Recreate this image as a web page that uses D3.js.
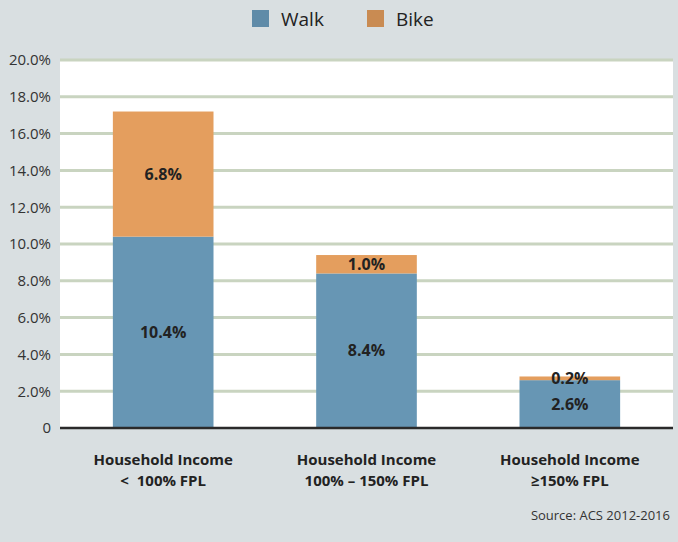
<!DOCTYPE html>
<html>
<head>
<meta charset="utf-8">
<script src="https://cdn.jsdelivr.net/npm/d3@7"></script>
<style>
  body { margin: 0; background: #d9dfe1; }
  svg { display: block; font-family: "Open Sans", Lato, sans-serif; }
</style>
</head>
<body>
<div id="chart"></div>
<script>
const categories = ['lt100', '100to150', 'ge150'];
const categoryLines = [
    ['Household Income', '<\u00a0\u00a0100% FPL'],
    ['Household Income', '100% \u2013 150% FPL'],
    ['Household Income', '\u2265150% FPL']
];
const walkValues = [10.4, 8.4, 2.6];
const bikeValues = [6.8, 1.0, 0.2];
const yTicks = [0, 2, 4, 6, 8, 10, 12, 14, 16, 18, 20];
const seriesNames = ['Walk', 'Bike'];
const sourceText = 'Source: ACS 2012-2016';

const W = 678, H = 542;
const plot = {left: 60, right: 673, top: 60, bottom: 428};

const colors = {Walk: '#6796b4', Bike: '#e49e5e'};
const legendColors = {Walk: '#5f8ba8', Bike: '#c98b52'};

const svg = d3.select('#chart')
    .append('svg')
    .attr('width', W)
    .attr('height', H);

// plot background
svg.append('rect')
    .attr('x', plot.left)
    .attr('y', plot.top)
    .attr('width', plot.right - plot.left)
    .attr('height', plot.bottom - plot.top)
    .attr('fill', '#fff');

const x = d3.scaleBand()
    .domain(categories)
    .range([plot.left, plot.right])
    .paddingInner(0.505)
    .paddingOuter(0.26);

const y = d3.scaleLinear()
    .domain([0, 20])
    .range([plot.bottom, plot.top]);

// gridlines
svg.append('g')
    .selectAll('line')
    .data(yTicks.filter(d => d > 0))
    .join('line')
    .attr('x1', plot.left)
    .attr('x2', plot.right)
    .attr('y1', d => y(d))
    .attr('y2', d => y(d))
    .attr('stroke', '#c9d4c0')
    .attr('stroke-width', 3);

// y axis labels
const yAxis = d3.axisLeft(y)
    .tickValues(yTicks)
    .tickSize(0)
    .tickPadding(9)
    .tickFormat(d => d === 0 ? '0' : d.toFixed(1) + '%');

svg.append('g')
    .attr('transform', `translate(${plot.left},0)`)
    .call(yAxis)
    .call(g => g.select('.domain').remove())
    .call(g => g.selectAll('text')
        .attr('fill', '#333')
        .style('font-size', '15px')
        .style('font-family', '"Open Sans", Lato, sans-serif'));

// stacked bars
const rows = categories.map((c, i) => ({cat: c, Walk: walkValues[i], Bike: bikeValues[i]}));
const stack = d3.stack().keys(seriesNames)(rows);

const layers = svg.append('g')
    .selectAll('g')
    .data(stack)
    .join('g')
    .attr('fill', d => colors[d.key]);

layers.selectAll('rect')
    .data(d => d)
    .join('rect')
    .attr('x', d => x(d.data.cat))
    .attr('width', x.bandwidth())
    .attr('y', d => y(d[1]))
    .attr('height', d => y(d[0]) - y(d[1]));

// value labels
layers.selectAll('text')
    .data(d => d.map(v => ({v, key: d.key})))
    .join('text')
    .attr('x', d => x(d.v.data.cat) + x.bandwidth() / 2)
    .attr('y', d => (y(d.v[0]) + y(d.v[1])) / 2)
    .attr('dy', '0.35em')
    .attr('text-anchor', 'middle')
    .attr('fill', '#222')
    .style('font-size', '16px')
    .style('font-weight', 'bold')
    .text(d => d.v.data[d.key].toFixed(1) + '%');

// x axis line
svg.append('line')
    .attr('x1', plot.left)
    .attr('x2', plot.right)
    .attr('y1', plot.bottom)
    .attr('y2', plot.bottom)
    .attr('stroke', '#2a2a2a')
    .attr('stroke-width', 2.5);

// category labels
const catLabels = svg.append('g')
    .selectAll('text')
    .data(categories)
    .join('text')
    .attr('text-anchor', 'middle')
    .attr('fill', '#222')
    .style('font-size', '15px')
    .style('font-weight', 'bold');

catLabels.selectAll('tspan')
    .data((d, i) => categoryLines[i].map(t => ({t, c: d})))
    .join('tspan')
    .attr('x', d => x(d.c) + x.bandwidth() / 2)
    .attr('y', (d, i) => 465 + i * 21)
    .text(d => d.t);

// legend
const legendX = [252, 367];
const legend = svg.append('g')
    .selectAll('g')
    .data(seriesNames)
    .join('g')
    .attr('transform', (d, i) => `translate(${legendX[i]},10)`);

legend.append('rect')
    .attr('width', 17)
    .attr('height', 17)
    .attr('fill', d => legendColors[d]);

legend.append('text')
    .attr('x', 29)
    .attr('y', 16)
    .attr('fill', '#222')
    .style('font-size', '19px')
    .text(d => d);

// source
svg.append('text')
    .attr('x', 670)
    .attr('y', 520)
    .attr('text-anchor', 'end')
    .attr('fill', '#333')
    .style('font-size', '13px')
    .text(sourceText);
</script>
</body>
</html>
